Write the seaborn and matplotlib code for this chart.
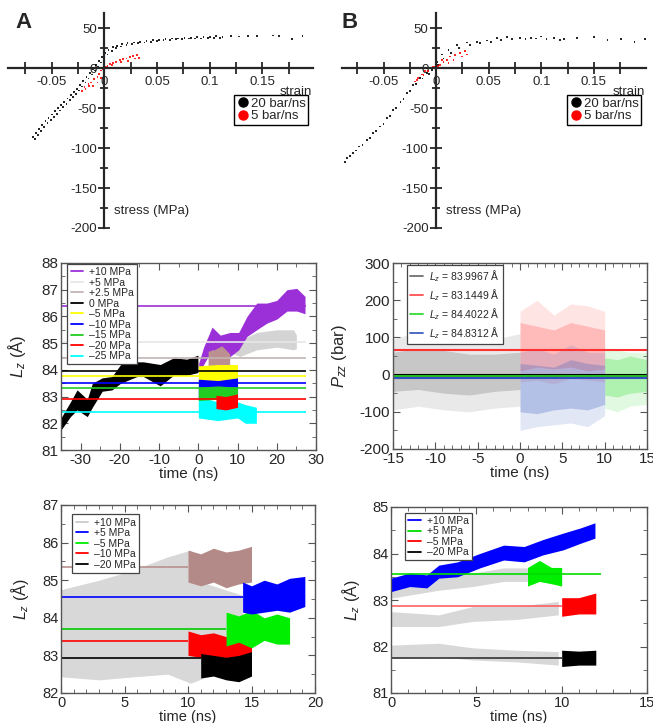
import matplotlib
matplotlib.use('Agg')
import matplotlib.pyplot as plt
from matplotlib.ticker import MultipleLocator, FuncFormatter
from matplotlib.lines import Line2D
import pandas as pd
import seaborn as sns

# ---------------- data ----------------
# panel A: stress-strain, 20 bar/ns (black) and 5 bar/ns (red)
A_fast_strain = [-0.068, -0.065, -0.062, -0.059, -0.056, -0.053, -0.050, -0.047, -0.044, -0.041,
                 -0.038, -0.035, -0.032, -0.029, -0.026, -0.023, -0.020, -0.017, -0.014, -0.011,
                 -0.008, -0.005, -0.002, 0.001, 0.004, 0.008, 0.012, 0.017, 0.022, 0.028,
                 0.034, 0.040, 0.046, 0.052, 0.058, 0.064, 0.070, 0.076, 0.082, 0.088,
                 0.094, 0.100, 0.106, 0.112, 0.120, 0.128, 0.136, 0.145, 0.160, 0.166, 0.178, 0.188,
                 -0.066, -0.063, -0.060, -0.057, -0.054, -0.051, -0.048, -0.045, -0.042, -0.039,
                 -0.036, -0.033, -0.030, -0.027, -0.024, -0.021, -0.018, -0.015, -0.012, -0.009,
                 -0.006, -0.003, 0.000, 0.003, 0.007, 0.011, 0.016, 0.021, 0.026, 0.032,
                 0.038, 0.044, 0.050, 0.056, 0.062, 0.068, 0.074, 0.080, 0.086, 0.092, 0.098, 0.104, 0.110]
A_fast_stress = [-86, -81, -76, -71, -66, -62, -58, -54, -50, -46,
                 -42, -38, -34, -30, -26, -21, -16, -11, -6, -1,
                 4, 9, 14, 19, 23, 26, 28, 30, 31, 32,
                 33, 34, 35, 35.5, 36, 37, 37, 38, 38, 38.5,
                 39, 39, 40, 39, 40, 39.5, 40, 40, 41, 40, 36, 40,
                 -89, -84, -79, -74, -69, -65, -61, -57, -53, -49,
                 -45, -40, -36, -32, -28, -23, -18, -13, -8, -3,
                 2, 7, 12, 17, 21, 25, 27, 29, 30, 31,
                 32, 33, 34, 35, 35, 36, 36, 37, 37, 37, 38, 38, 38]
A_slow_strain = [-0.021, -0.018, -0.0145, -0.013, -0.010, -0.0065, -0.005, -0.003, -0.0015, 0.0015,
                 0.005, 0.008, 0.011, 0.0145, 0.018, 0.021, 0.024, 0.027, 0.031,
                 -0.019, -0.015, -0.011, -0.0065, -0.003, 0.003, 0.007, 0.016, 0.0226, 0.029, 0.033]
A_slow_stress = [-29, -26, -22, -18, -14, -11, -7, -3, -1, 1,
                 5, 6, 8, 10, 11, 12, 14, 15, 16,
                 -24, -20, -22, -18, -12, 3, 4, 8, 9, 12, 13]

# panel B
B_fast_strain = [-0.090, -0.085, -0.079, -0.073, -0.066, -0.060, -0.0535, -0.047, -0.041, -0.034,
                 -0.028, -0.0217, -0.0153, -0.0089, -0.004, 0.0006, 0.0054, 0.0118, 0.0197, 0.029,
                 0.039, 0.048, 0.058, 0.0675, 0.080, 0.090, 0.0994, 0.112, 0.1217, 0.134,
                 0.150, 0.163, 0.176, 0.1885, 0.1985,
                 -0.087, -0.082, -0.076, -0.070, -0.063, -0.057, -0.050, -0.044, -0.038, -0.031,
                 -0.025, -0.019, -0.013, -0.007, 0.002, 0.007, 0.014, 0.022, 0.032, 0.042,
                 0.052, 0.062, 0.072, 0.085, 0.095, 0.105, 0.118]
B_fast_stress = [-119, -112, -106, -98, -90, -81, -73, -62.5, -52, -42,
                 -31, -21, -12.5, -6, -2, 8, 17, 23, 29, 32,
                 33, 34.6, 37.5, 39, 37.5, 37.5, 39.6, 37.5, 36, 37.5,
                 39, 35, 36, 33, 36,
                 -117, -110, -103, -96, -87, -79, -70, -60, -50, -39,
                 -29, -20, -13, -7, 4, 12, 19, 25, 29, 31,
                 33, 35, 36, 36, 37, 36, 35]
B_slow_strain = [-0.020, -0.017, -0.0137, -0.0105, -0.0057, -0.001, 0.004, 0.007, 0.010, 0.0134,
                 0.018, 0.023, 0.0277,
                 -0.018, -0.012, -0.008, -0.003, 0.002, 0.0054, 0.0118, 0.0166, 0.0245, 0.029]
B_slow_stress = [-16.7, -12.5, -8, -4, 0, 2, 4, 8, 10, 14.6,
                 16.7, 18.75, 21,
                 -15, -9, -4, 1, 3, 10, 6, 10, 14.6, 17]

rate_labels = ['20 bar/ns', '5 bar/ns']
rate_colors = ['black', 'red']

# middle left: L_z vs time for different stresses
ml_labels = ['+10 MPa', '+5 MPa', '+2.5 MPa', '0 MPa', '–5 MPa', '–10 MPa', '–15 MPa', '–20 MPa', '–25 MPa']
ml_colors = ['#9b30d9', '#e6e6e6', '#c4b4b4', 'black', '#ffff00', '#0000ff', '#22cc22', '#ff0000', '#00ffff']
ml_levels = [86.4, 85.05, 84.45, 83.95, 83.78, 83.5, 83.33, 82.9, 82.43]

ml_p0_t = [-35, -32.6, -30.9, -28.3, -27.0, -24.5, -22, -19.8, -15.6, -14, -9.7, -6.3, -2.9, -0.1]
ml_p0_lo = [81.75, 82.25, 82.5, 82.25, 82.6, 83.2, 83.25, 83.5, 83.75, 83.75, 83.4, 83.8, 83.8, 83.9]
ml_p0_hi = [82.2, 82.8, 83.25, 82.9, 83.5, 83.7, 83.75, 84.2, 84.3, 84.3, 84.2, 84.45, 84.4, 84.55]
ml_p10_t = [0.1, 1.35, 3.5, 5.6, 8.1, 10.3, 12.4, 14.9, 17.5, 20, 22.6, 25.1, 27.2]
ml_p10_lo = [83.75, 84.2, 84.75, 84.6, 84.5, 84.75, 85.25, 85.5, 85.75, 85.9, 86.2, 86.2, 86.1]
ml_p10_hi = [84.25, 84.85, 85.6, 85.3, 85.4, 85.4, 86.0, 86.5, 86.5, 86.6, 87.0, 87.05, 86.75]
ml_p5_t = [9, 10.6, 14.9, 20, 24.3, 25]
ml_p5_lo = [84.6, 84.5, 84.75, 84.85, 84.75, 84.8]
ml_p5_hi = [85.0, 85.1, 85.4, 85.5, 85.5, 85.3]
ml_p25_t = [2.5, 4, 6, 8]
ml_p25_lo = [84.0, 83.9, 84.0, 84.1]
ml_p25_hi = [84.7, 84.75, 84.9, 84.6]
ml_m5_t = [0, 5, 10]
ml_m5_lo = [83.4, 83.45, 83.4]
ml_m5_hi = [84.15, 84.2, 84.2]
ml_m10_t = [0, 5, 10]
ml_m10_lo = [82.95, 83.0, 83.0]
ml_m10_hi = [83.65, 83.6, 83.7]
ml_m15_t = [0, 5, 10]
ml_m15_lo = [82.85, 82.9, 82.85]
ml_m15_hi = [83.35, 83.4, 83.35]
ml_m20_t = [4.5, 7, 10]
ml_m20_lo = [82.55, 82.5, 82.6]
ml_m20_hi = [83.05, 83.0, 83.1]
ml_m25_t = [0, 5, 10, 12, 14.8]
ml_m25_lo = [82.2, 82.1, 82.2, 82.0, 82.0]
ml_m25_hi = [83.0, 82.8, 82.8, 82.7, 82.6]

# middle right: P_zz clouds
mr_labels = [r'$L_z$ = 83.9967 Å', r'$L_z$ = 83.1449 Å', r'$L_z$ = 84.4022 Å', r'$L_z$ = 84.8312 Å']
mr_colors = ['#707070', '#ff5050', '#33dd33', '#4060c0']
mr_means = [-1, 65, -3, -8]
mr_k_t = [-15, -12, -9, -6, -3, 0]
mr_k_out = ([-95, -85, -95, -100, -90, -85], [95, 115, 110, 90, 95, 110])
mr_k_in = ([-45, -40, -50, -55, -45, -40], [60, 70, 65, 55, 55, 60])
mr_r_t = [0, 2, 4, 6, 8, 10]
mr_r_out = ([-20, -15, -25, -10, -15, -20], [170, 200, 160, 190, 185, 170])
mr_r_in = ([10, 20, 15, 20, 10, 15], [140, 130, 120, 140, 130, 120])
mr_b_t = [0, 2, 4, 6, 8, 10]
mr_b_out = ([-150, -140, -135, -130, -140, -110], [60, 70, 55, 80, 60, 60])
mr_b_in = ([-100, -105, -95, -90, -95, -80], [30, 25, 20, 40, 30, 25])
mr_g_t = [10, 11.5, 13, 15]
mr_g_out = ([-90, -100, -85, -80], [70, 65, 60, 60])
mr_g_in = ([-55, -60, -50, -45], [45, 40, 50, 40])

# bottom left
bl_labels = ['+10 MPa', '+5 MPa', '–5 MPa', '–10 MPa', '–20 MPa']
bl_colors = ['#cccccc', '#0000ff', '#00ee00', '#ff0000', 'black']
bl_eq_t = [0, 3, 5.7, 8.4, 10.2, 11.5, 14.3]
bl_eq_lo = [82.43, 82.35, 82.43, 82.5, 82.26, 82.43, 83.3]
bl_eq_hi = [84.75, 85.0, 85.27, 85.62, 85.8, 84.9, 84.6]
bl_ref_levels = [85.35, 84.55, 83.7, 83.38, 82.92]
bl_ref_colors = ['#b89090', '#0000ff', '#00cc00', '#ff0000', 'black']
bl_ref_end = [10, 14.3, 13, 10, 11]
bl_br_t = [10, 11, 12, 13, 14, 15]
bl_br_lo = [84.95, 84.85, 84.95, 84.8, 84.9, 84.95]
bl_br_hi = [85.8, 85.7, 85.85, 85.75, 85.8, 85.9]
bl_bl_t = [14.3, 15, 16, 17, 18, 19.2]
bl_bl_lo = [84.15, 84.1, 84.15, 84.2, 84.15, 84.3]
bl_bl_hi = [84.95, 84.85, 85.0, 84.9, 85.05, 85.1]
bl_gr_t = [13, 14, 15, 16, 17, 18]
bl_gr_lo = [83.25, 83.35, 83.2, 83.4, 83.3, 83.3]
bl_gr_hi = [84.15, 84.05, 84.2, 84.0, 84.1, 84.0]
bl_rd_t = [10, 11, 12, 13, 14, 15]
bl_rd_lo = [83.0, 82.95, 82.9, 82.85, 82.9, 82.95]
bl_rd_hi = [83.65, 83.55, 83.6, 83.5, 83.6, 83.55]
bl_bk_t = [11, 12, 13, 14, 15]
bl_bk_lo = [82.4, 82.45, 82.35, 82.3, 82.45]
bl_bk_hi = [83.05, 83.0, 82.95, 83.0, 83.1]

# bottom right
br_labels = ['+10 MPa', '+5 MPa', '–5 MPa', '–20 MPa']
br_colors = ['#0000ff', '#00dd00', '#ff0000', 'black']
br_p10_t = [0, 1.1, 2.1, 2.8, 3.9, 5.2, 6.6, 7.8, 8.9, 10.1, 11.1, 11.95]
br_p10_lo = [83.18, 83.29, 83.26, 83.47, 83.5, 83.69, 83.86, 83.82, 83.97, 84.08, 84.22, 84.33]
br_p10_hi = [83.47, 83.58, 83.54, 83.75, 83.82, 84.0, 84.18, 84.15, 84.3, 84.44, 84.55, 84.66]
br_g1_t = [0, 2.8, 4.8, 6.6, 9.8]
br_g1_lo = [83.04, 83.21, 83.29, 83.4, 83.4]
br_g1_hi = [83.32, 83.5, 83.58, 83.69, 83.69]
br_g2_t = [0, 2.8, 4.8, 7.3, 9.8]
br_g2_lo = [82.43, 82.43, 82.54, 82.58, 82.68]
br_g2_hi = [82.75, 82.68, 82.86, 82.86, 82.97]
br_g3_t = [0, 2.8, 4.8, 7.3, 9.8]
br_g3_lo = [81.75, 81.78, 81.71, 81.67, 81.6]
br_g3_hi = [82.03, 82.07, 81.97, 81.92, 81.89]
br_ref_levels = [83.55, 82.88, 81.75]
br_ref_colors = ['#00dd00', '#ff6060', '#333333']
br_ref_end = [12.3, 10, 10]
br_p5_t = [8, 8.7, 9.4, 10]
br_p5_lo = [83.3, 83.4, 83.35, 83.3]
br_p5_hi = [83.7, 83.85, 83.7, 83.7]
br_m5_t = [10, 11, 12]
br_m5_lo = [82.65, 82.7, 82.7]
br_m5_hi = [83.05, 83.05, 83.15]
br_m20_t = [10, 11, 12]
br_m20_lo = [81.57, 81.6, 81.6]
br_m20_hi = [81.92, 81.9, 81.92]

# ---------------- figure ----------------
sns.set_style('ticks')
plt.rcParams['font.family'] = ['Liberation Sans', 'DejaVu Sans']
plt.rcParams['mathtext.fontset'] = 'custom'
plt.rcParams['mathtext.rm'] = 'Liberation Sans'
plt.rcParams['mathtext.it'] = 'Liberation Sans:italic'
plt.rcParams['axes.unicode_minus'] = False

W, H = 653, 723
fig = plt.figure(figsize=(W / 100, H / 100), dpi=100)


def box(l, t, r, b):
    return fig.add_axes([l / W, 1 - b / H, (r - l) / W, (b - t) / H])


fmt = FuncFormatter(lambda v, p: '%g' % round(v, 4))


def stress_panel(ax, fs, fst, ss, sst, xlim, letter):
    df = pd.DataFrame({'strain': fs + ss, 'stress': fst + sst,
                       'rate': [rate_labels[0]] * len(fs) + [rate_labels[1]] * len(ss)})
    sns.scatterplot(data=df, x='strain', y='stress', hue='rate', palette=dict(zip(rate_labels, rate_colors)),
                    s=1.6, marker='s', linewidth=0, alpha=0.85, legend=False, ax=ax)
    ax.set_xlim(*xlim)
    ax.set_ylim(-200, 69)
    ax.patch.set_alpha(0)
    ax.spines['left'].set_position(('data', 0))
    ax.spines['bottom'].set_position(('data', 0))
    ax.spines['right'].set_visible(False)
    ax.spines['top'].set_visible(False)
    for s in ('left', 'bottom'):
        ax.spines[s].set_linewidth(1.6)
    ax.xaxis.set_major_locator(MultipleLocator(0.05))
    ax.xaxis.set_minor_locator(MultipleLocator(0.025))
    ax.yaxis.set_major_locator(MultipleLocator(50))
    ax.yaxis.set_minor_locator(MultipleLocator(25))
    ax.xaxis.set_major_formatter(fmt)
    ax.yaxis.set_major_formatter(fmt)
    ax.tick_params(which='both', direction='inout', length=9, width=1.3, labelsize=9.5, pad=1)
    ax.tick_params(axis='y', which='minor', length=6)
    ax.set_xlabel('')
    ax.set_ylabel('')
    ax.text(xlim[1] - 0.001, -30, 'strain', ha='right', va='center', fontsize=9.5)
    ax.text(0.0095, -179, 'stress (MPa)', ha='left', va='center', fontsize=9.5)
    handles = [Line2D([], [], marker='o', ls='', color=c, ms=6.5, label=l) for l, c in zip(rate_labels, rate_colors)]
    ax.legend(handles=handles, loc='upper right', bbox_to_anchor=(0.985, 0.62), frameon=True, fancybox=False,
              edgecolor='black', framealpha=1, fontsize=9.5, borderpad=0.2, handletextpad=0.1,
              handlelength=1.0, labelspacing=0.05, borderaxespad=0)
    ax.legend_.get_frame().set_linewidth(1)
    fig.text(ax.get_position().x0 + (0.012 if letter == 'A' else 0), 1 - 23 / H, letter,
             fontsize=16, fontweight='bold', va='center')


def frame(ax, xlim, ylim, xmaj, xmin, ymaj, ymin, fs):
    ax.set_xlim(*xlim)
    ax.set_ylim(*ylim)
    for s in ax.spines.values():
        s.set_color('#555555')
        s.set_linewidth(1)
    ax.xaxis.set_major_locator(MultipleLocator(xmaj))
    ax.xaxis.set_minor_locator(MultipleLocator(xmin))
    ax.yaxis.set_major_locator(MultipleLocator(ymaj))
    ax.yaxis.set_minor_locator(MultipleLocator(ymin))
    ax.xaxis.set_major_formatter(fmt)
    ax.yaxis.set_major_formatter(fmt)
    ax.tick_params(which='both', direction='in', top=True, right=True, color='#555555', labelsize=fs, pad=2)
    ax.tick_params(which='major', length=5)
    ax.tick_params(which='minor', length=3)


def band(ax, t, lo, hi, color, alpha=1.0):
    ax.fill_between(t, lo, hi, color=color, lw=0, alpha=alpha)


def small_legend(ax, labels, colors, spacing):
    handles = [Line2D([], [], color=c, lw=1.3, label=l) for l, c in zip(labels, colors)]
    leg = ax.legend(handles=handles, loc='upper left', bbox_to_anchor=(0.025, 0.995), frameon=True,
                    fancybox=False, edgecolor='#444444', framealpha=1, fontsize=7.5, borderpad=0.3,
                    handletextpad=0.6, handlelength=1.2, labelspacing=spacing, borderaxespad=0)
    leg.get_frame().set_linewidth(0.9)


# ---- top row ----
axA = box(8, 13, 313, 228)
stress_panel(axA, A_fast_strain, A_fast_stress, A_slow_strain, A_slow_stress, (-0.0915, 0.198), 'A')
axB = box(342, 13, 646, 228)
stress_panel(axB, B_fast_strain, B_fast_stress, B_slow_strain, B_slow_stress, (-0.0895, 0.1995), 'B')

# ---- middle left ----
ax = box(61, 263, 316, 450)
ax.hlines(ml_levels, -35, 27.5, colors=ml_colors, lw=1.2)
band(ax, ml_p5_t, ml_p5_lo, ml_p5_hi, '#d4d4d4')
band(ax, ml_p10_t, ml_p10_lo, ml_p10_hi, '#9b30d9')
band(ax, ml_p25_t, ml_p25_lo, ml_p25_hi, '#bc9090')
band(ax, ml_m25_t, ml_m25_lo, ml_m25_hi, '#00ffff')
band(ax, ml_m5_t, ml_m5_lo, ml_m5_hi, '#ffff00')
band(ax, ml_m10_t, ml_m10_lo, ml_m10_hi, '#0000ff')
band(ax, ml_m15_t, ml_m15_lo, ml_m15_hi, '#22cc22')
band(ax, ml_m20_t, ml_m20_lo, ml_m20_hi, '#ff0000')
band(ax, ml_p0_t, ml_p0_lo, ml_p0_hi, 'black')
frame(ax, (-35, 30), (81, 88), 10, 5, 1, 0.5, 11)
ax.set_xlabel('time (ns)', fontsize=11, labelpad=0)
ax.set_ylabel(r'$L_z$ (Å)', fontsize=12)
ax.yaxis.set_label_coords(-0.13, 0.5)
small_legend(ax, ml_labels, ml_colors, 0.05)

# ---- middle right ----
ax = box(393, 263, 647, 449)
for t, out, inn, c in [(mr_k_t, mr_k_out, mr_k_in, mr_colors[0]),
                       (mr_r_t, mr_r_out, mr_r_in, mr_colors[1]),
                       (mr_g_t, mr_g_out, mr_g_in, mr_colors[2]),
                       (mr_b_t, mr_b_out, mr_b_in, mr_colors[3])]:
    band(ax, t, out[0], out[1], c, 0.15)
    band(ax, t, inn[0], inn[1], c, 0.28)
ax.hlines(mr_means, -15, 15, colors=['black', '#ff3030', '#22bb22', '#3050c0'], lw=1.5)
frame(ax, (-15, 15), (-200, 300), 5, 1, 100, 50, 11)
ax.set_xlabel('time (ns)', fontsize=11, labelpad=0)
ax.set_ylabel(r'$P_{zz}$ (bar)', fontsize=12)
ax.yaxis.set_label_coords(-0.175, 0.5)
small_legend(ax, mr_labels, mr_colors, 0.3)
ax.legend_.set_bbox_to_anchor((0.055, 0.99))

# ---- bottom left ----
ax = box(61, 505, 315, 693)
band(ax, bl_eq_t, bl_eq_lo, bl_eq_hi, '#d8d8d8')
for lev, c, e in zip(bl_ref_levels, bl_ref_colors, bl_ref_end):
    ax.hlines(lev, 0, e, colors=c, lw=1.2)
band(ax, bl_br_t, bl_br_lo, bl_br_hi, '#b48a88')
band(ax, bl_rd_t, bl_rd_lo, bl_rd_hi, '#ff0000')
band(ax, bl_gr_t, bl_gr_lo, bl_gr_hi, '#00ee00')
band(ax, bl_bk_t, bl_bk_lo, bl_bk_hi, 'black')
band(ax, bl_bl_t, bl_bl_lo, bl_bl_hi, '#0000ff')
frame(ax, (0, 20), (82, 87), 5, 1, 1, 0.5, 10.5)
ax.set_xlabel('time (ns)', fontsize=10.5, labelpad=0)
ax.set_ylabel(r'$L_z$ (Å)', fontsize=11.5)
ax.yaxis.set_label_coords(-0.12, 0.5)
small_legend(ax, bl_labels, bl_colors, 0.05)
ax.legend_.set_bbox_to_anchor((0.045, 0.95))

# ---- bottom right ----
ax = box(391, 507, 647, 693)
band(ax, br_g1_t, br_g1_lo, br_g1_hi, '#d8d8d8')
band(ax, br_g2_t, br_g2_lo, br_g2_hi, '#d8d8d8')
band(ax, br_g3_t, br_g3_lo, br_g3_hi, '#d8d8d8')
for lev, c, e in zip(br_ref_levels, br_ref_colors, br_ref_end):
    ax.hlines(lev, 0, e, colors=c, lw=1.2)
band(ax, br_p10_t, br_p10_lo, br_p10_hi, '#0000ff')
band(ax, br_p5_t, br_p5_lo, br_p5_hi, '#00ee00')
band(ax, br_m5_t, br_m5_lo, br_m5_hi, '#ff0000')
band(ax, br_m20_t, br_m20_lo, br_m20_hi, 'black')
frame(ax, (0, 15), (81, 85), 5, 1, 1, 0.5, 10.5)
ax.set_xlabel('time (ns)', fontsize=10.5, labelpad=0)
ax.set_ylabel(r'$L_z$ (Å)', fontsize=11.5)
ax.yaxis.set_label_coords(-0.115, 0.5)
small_legend(ax, br_labels, br_colors, 0.05)
ax.legend_.set_bbox_to_anchor((0.055, 0.97))

fig.savefig('out.png', dpi=100)
